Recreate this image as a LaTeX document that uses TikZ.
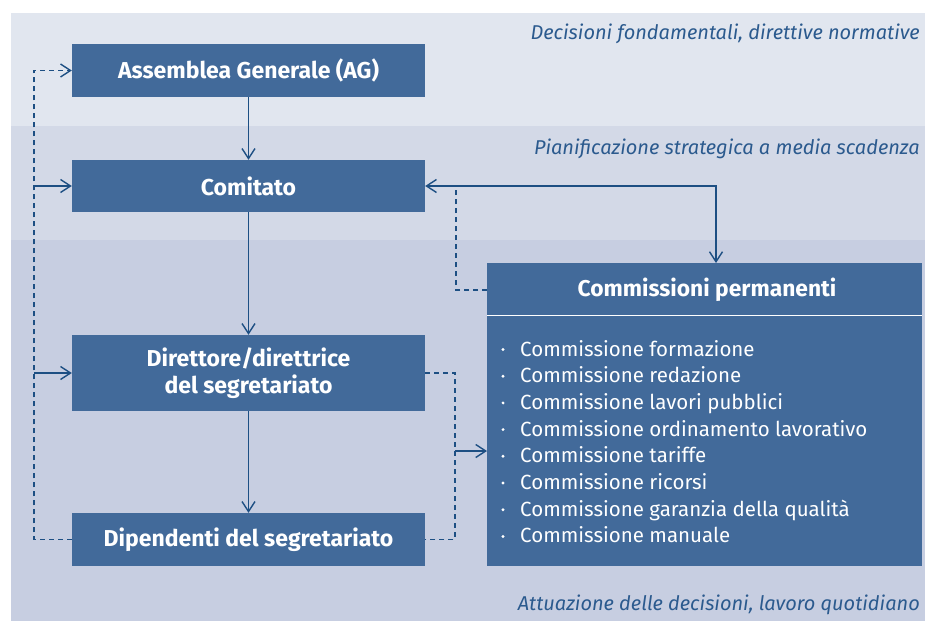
\documentclass[tikz,border=0pt]{standalone}
\usepackage{fontspec}
\setmainfont{Fira Sans}
\usetikzlibrary{arrows.meta}
\definecolor{bandA}{HTML}{E1E6EF}
\definecolor{bandB}{HTML}{D3D9E7}
\definecolor{bandC}{HTML}{C7CEE1}
\definecolor{boxblue}{HTML}{426A9A}
\definecolor{linkblue}{HTML}{1D4F83}
\definecolor{labelblue}{HTML}{2B5A8E}
\tikzset{
  orgbox/.style={fill=boxblue, draw=none, text=white, font=\fontsize{23}{27}\selectfont\bfseries,
    minimum width=353pt, inner sep=0pt, align=center},
  conn/.style={draw=linkblue, line width=1.4pt},
  dconn/.style={conn, dash pattern=on 5pt off 4pt},
  tip/.style={-{Straight Barb[length=10pt,width=13pt,line width=1.4pt]}},
  lvl/.style={text=labelblue, font=\fontsize{20}{22}\selectfont\itshape, anchor=base east, inner sep=0pt},
  item/.style={text=white, font=\fontsize{20.5}{24}\selectfont, anchor=base west, inner sep=0pt}
}
\begin{document}
\begin{tikzpicture}[x=1pt,y=-1pt]
\useasboundingbox (0,0) rectangle (925,621);
% bands
\fill[bandA] (11,13) rectangle (925,126);
\fill[bandB] (11,126) rectangle (925,240);
\fill[bandC] (11,240) rectangle (925,621);
% level labels
\node[lvl] (l1) at (920,39) {Decisioni fondamentali, direttive normative};
\node[lvl] (l2) at (920,154) {Pianificazione strategica a media scadenza};
\node[lvl] (l3) at (920,610) {Attuazione delle decisioni, lavoro quotidiano};
% boxes
\node[orgbox, minimum height=53pt] (ag) at (248.5,70.5) {Assemblea Generale (AG)};
\node[orgbox, minimum height=52pt] (com) at (248.5,186) {Comitato};
\node[orgbox, minimum height=76pt] (dir) at (248.5,373) {Direttore/direttrice\\del segretariato};
\node[orgbox, minimum height=53pt] (dip) at (248.5,539.5) {Dipendenti del segretariato};
% commissioni
\node[fill=boxblue, draw=none, minimum width=435pt, minimum height=303pt, inner sep=0pt] (kom) at (704.5,414.5) {};
\node[text=white, font=\fontsize{22.8}{24}\selectfont\bfseries, inner sep=0pt] (komt) at (707,290) {Commissioni permanenti};
\coordinate (sepl) at (487,315);
\coordinate (sepr) at (922,315);
\draw[white, line width=1pt] (sepl) -- (sepr);
\foreach \t [count=\i from 0] in {Commissione formazione, Commissione redazione, Commissione lavori pubblici, Commissione ordinamento lavorativo, Commissione tariffe, Commissione ricorsi, Commissione garanzia della qualità, Commissione manuale}{
  \node[item] (it\i) at (520,356+26.7*\i) {\t};
  \fill[white] (503,349.5+26.7*\i) circle (1.6);
}
% left feedback line
\coordinate (lb) at (34,539.5);
\coordinate (lt) at (34,70.5);
\draw[dconn, tip] (dip.west) -- (lb) -- (lt) -- (ag.west);
\draw[conn, tip] (lb |- com.west) -- (com.west);
\draw[conn, tip] (lb |- dir.west) -- (dir.west);
% vertical chain
\draw[conn, tip] (ag.south) -- (com.north);
\draw[conn, tip] (com.south) -- (dir.north);
\draw[conn, tip] (dir.south) -- (dip.north);
% comitato <-> commissioni
\coordinate (kt) at (716,263);
\draw[conn, {Straight Barb[length=10pt,width=13pt,line width=1.4pt]}-{Straight Barb[length=10pt,width=13pt,line width=1.4pt]}] (com.east) -- (com.east -| kt) -- (kt);
\coordinate (kh) at (487,290);
\coordinate (kd) at (456,290);
\draw[dconn] (kh) -- (kd) -- (kd |- com.east);
% secretariat -> commissioni
\coordinate (rx) at (455,451);
\draw[dconn] (dir.east) -- (rx |- dir.east) -- (rx |- dip.east) -- (dip.east);
\coordinate (kl) at (487,451);
\draw[conn, tip] (rx) -- (kl);
\end{tikzpicture}
\end{document}
